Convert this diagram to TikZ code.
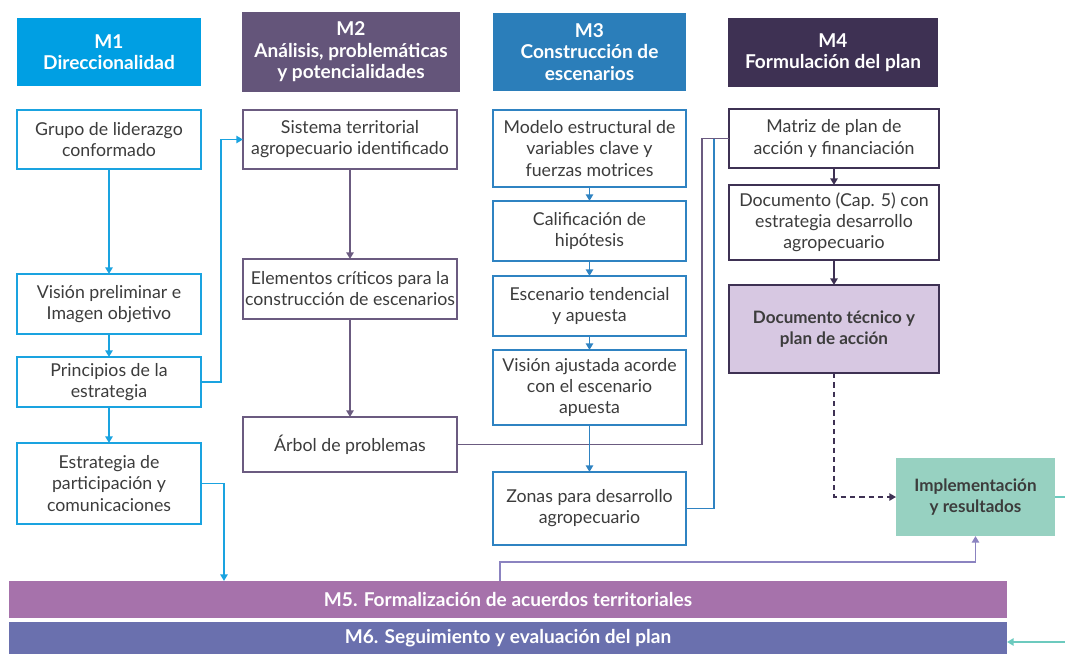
\documentclass[tikz,border=0pt]{standalone}
\usepackage{fontspec}
\setmainfont{Lato}
\usetikzlibrary{arrows.meta,calc}
\definecolor{cM1}{HTML}{009FE3}
\definecolor{bM1}{HTML}{1AA3E0}
\definecolor{cM2}{HTML}{64557A}
\definecolor{bM2}{HTML}{6B5B80}
\definecolor{cM3}{HTML}{2B7EBA}
\definecolor{bM3}{HTML}{2F83C2}
\definecolor{cM4}{HTML}{3E3153}
\definecolor{fTec}{HTML}{D7C8E2}
\definecolor{fImp}{HTML}{97D1C1}
\definecolor{cM5}{HTML}{A672AB}
\definecolor{cM6}{HTML}{6A70AE}
\definecolor{cLav}{HTML}{8B83C0}
\definecolor{cTeal}{HTML}{6CCABE}
\definecolor{txt}{HTML}{3C3C3C}
\newcommand\bx[7]{\node[#6, minimum width={(#4-#2)*0.75pt}, minimum height={(#5-#3)*0.75pt}] (#1) at ({(#2+#4)/2},{(#3+#5)/2}) {#7};}
\tikzset{
  base/.style={inner sep=0pt, outer sep=0pt, align=center, text=txt, font=\fontsize{13.3}{15.8}\selectfont},
  head/.style={base, text=white, font=\bfseries\fontsize{14.3}{16.2}\selectfont},
  wbox/.style={base, draw, fill=white, line width=1.4pt},
  band/.style={base, text=white, font=\bfseries\fontsize{14.3}{16}\selectfont},
  boldtxt/.style={font=\bfseries\fontsize{12.8}{15.8}\selectfont},
  conn/.style={line width=1.3pt, -{Triangle[length=5pt,width=5.5pt]}},
  line/.style={line width=1.3pt},
}
\begin{document}
\begin{tikzpicture}[x=0.75pt,y=-0.75pt]
\useasboundingbox (0,0) rectangle (1065,654);
% headers
\bx{h1}{17}{18}{201}{86}{head, fill=cM1}{M1\\Direccionalidad}
\bx{h2}{242}{12}{460}{92}{head, fill=cM2}{M2\\Análisis, problemáticas\\y potencialidades}
\bx{h3}{493}{13}{686}{91}{head, fill=cM3}{M3\\Construcción de\\escenarios}
\bx{h4}{728}{18}{938}{87}{head, fill=cM4}{M4\\Formulación del plan}
% M1 column
\bx{grupo}{17}{110}{201}{169}{wbox, draw=bM1}{Grupo de liderazgo\\conformado}
\bx{vis1}{17}{274}{201}{334}{wbox, draw=bM1}{Visión preliminar e\\Imagen objetivo}
\bx{princ}{17}{357}{201}{407}{wbox, draw=bM1}{Principios de la\\estrategia}
\bx{estr}{17}{443}{201}{524}{wbox, draw=bM1}{Estrategia de\\participación y\\comunicaciones}
% M2 column
\bx{sist}{243}{110}{457}{169}{wbox, draw=bM2}{Sistema territorial\\agropecuario identificado}
\bx{elem}{243}{259}{457}{319}{wbox, draw=bM2}{Elementos críticos para la\\construcción de escenarios}
\bx{arbol}{243}{417}{457}{472}{wbox, draw=bM2}{Árbol de problemas}
% M3 column
\bx{modelo}{493}{110}{686}{187}{wbox, draw=bM3}{Modelo estructural de\\variables clave y\\fuerzas motrices}
\bx{calif}{493}{201}{686}{261}{wbox, draw=bM3}{Calificación de\\hipótesis}
\bx{esc}{493}{276}{686}{336}{wbox, draw=bM3}{Escenario tendencial\\y apuesta}
\bx{visaj}{493}{350}{686}{425}{wbox, draw=bM3}{Visión ajustada acorde\\con el escenario\\apuesta}
\bx{zonas}{493}{472}{686}{545}{wbox, draw=bM3}{Zonas para desarrollo\\agropecuario}
% M4 column
\bx{matriz}{729}{109}{939}{168}{wbox, draw=cM4}{Matriz de plan de\\acción y financiación}
\bx{doc5}{729}{185}{939}{260}{wbox, draw=cM4}{Documento (Cap. 5) con\\estrategia desarrollo\\agropecuario}
\bx{doctec}{729}{285}{939}{373}{wbox, draw=cM4, fill=fTec, boldtxt}{Documento técnico y\\plan de acción}
\bx{impl}{896}{458}{1055}{536}{base, fill=fImp, boldtxt}{Implementación\\y resultados}
% bands
\bx{m5}{9}{581}{1007}{618}{band, fill=cM5}{M5. Formalización de acuerdos territoriales}
\bx{m6}{9}{622}{1007}{654}{band, fill=cM6}{M6. Seguimiento y evaluación del plan}
% coordinates
\coordinate (x1) at (221,0);
\coordinate (x2) at (224,0);
\coordinate (x3) at (702,0);
\coordinate (x4) at (714,0);
\coordinate (x5) at (500,0);
\coordinate (y5) at (0,562);
\coordinate (tEnd) at (1065,497);
\coordinate (tStart) at (1065,642);
% M1 connectors
\draw[conn, bM1] (grupo) -- (vis1);
\draw[conn, bM1] (vis1) -- (princ);
\draw[conn, bM1] (princ) -- (estr);
\draw[conn, bM1] (princ.east) -| (x1 |- sist.west) -- (sist.west);
\draw[conn, bM1] (estr.east) -| (x2 |- m5.north);
% M2 connectors
\draw[conn, bM2] (sist) -- (elem);
\draw[conn, bM2] (elem) -- (arbol);
\draw[line, bM2] (arbol.east) -| (x3 |- matriz.west) -- (matriz.west);
% M3 connectors
\draw[conn, bM3] (modelo) -- (calif);
\draw[conn, bM3] (calif) -- (esc);
\draw[conn, bM3] (esc) -- (visaj);
\draw[conn, bM3] (visaj) -- (zonas);
\draw[line, bM3] (zonas.east) -| (x4 |- matriz.west);
% M4 connectors
\draw[conn, cM4] (matriz) -- (doc5);
\draw[conn, cM4] (doc5) -- (doctec);
\draw[conn, cM4, dashed, line width=1.1pt, dash pattern=on 4pt off 3pt] (doctec.south) |- (impl.west);
% bottom connectors
\draw[conn, cLav] (x5 |- m5.north) -- (x5 |- y5) -| (impl.south);
\draw[line, cTeal] (impl.east) -- (tEnd);
\draw[conn, cTeal] (tStart) -- (tStart -| m6.east);
\end{tikzpicture}
\end{document}
